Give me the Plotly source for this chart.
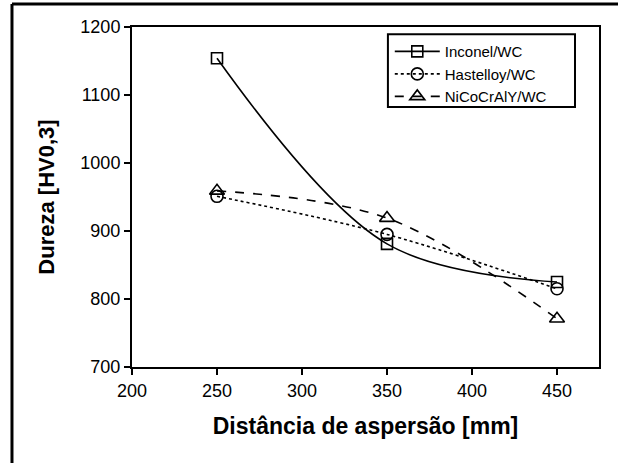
import plotly.graph_objects as go

distancia = [250, 350, 450]
inconel = [1154, 881, 825]
hastelloy = [951, 895, 815]
nicocraly = [959, 919, 771]
names = ["Inconel/WC", "Hastelloy/WC", "NiCoCrAlY/WC"]
x_ticks = [200, 250, 300, 350, 400, 450]
y_ticks = [700, 800, 900, 1000, 1100, 1200]

FONT = "Arial, Liberation Sans, Helvetica, sans-serif"

fig = go.Figure()
styles = [
    (inconel, "solid", "square-open", 11),
    (hastelloy, "dot", "circle-open", 12),
    (nicocraly, "dash", "triangle-up-open", 13),
]
for name, (vals, dash, sym, size) in zip(names, styles):
    fig.add_trace(go.Scatter(
        x=distancia, y=vals, name=name, mode="lines+markers",
        line=dict(color="black", width=1.6, dash=dash, shape="spline", smoothing=1.0),
        marker=dict(symbol=sym, size=size, color="black", line=dict(width=1.6, color="black")),
    ))

axis_common = dict(
    showline=True, linecolor="black", linewidth=2, mirror=True,
    ticks="outside", ticklen=6, tickwidth=2, tickcolor="black",
    showgrid=False, zeroline=False, automargin=True,
    tickfont=dict(family=FONT, size=18, color="black"),
)
fig.update_xaxes(range=[200, 474.7], tickvals=x_ticks,
                 title=dict(text="Distância de aspersão [mm]", standoff=18,
                            font=dict(family=FONT, size=23, color="black", weight="bold")),
                 **axis_common)
fig.update_yaxes(range=[700, 1200], tickvals=y_ticks,
                 title=dict(text="Dureza [HV0,3]", standoff=20,
                            font=dict(family=FONT, size=22, color="black", weight="bold")),
                 **axis_common)

# outer frame (only left and top edges fall inside the picture)
frame = dict(color="black", width=3)
fig.add_shape(type="line", xref="paper", yref="paper",
              x0=-0.257, x1=-0.257, y0=1.0676, y1=-0.35, line=frame)
fig.add_shape(type="line", xref="paper", yref="paper",
              x0=-0.257, x1=1.1, y0=1.0676, y1=1.0676, line=frame)
# legend frame
fig.add_shape(type="rect", xref="paper", yref="paper",
              x0=0.548, x1=0.9486, y0=0.7647, y1=0.979,
              line=dict(color="black", width=2), fillcolor="white", layer="above")

fig.update_layout(
    width=618, height=463,
    margin=dict(l=132, r=19, t=27, b=96, autoexpand=False),
    paper_bgcolor="white", plot_bgcolor="white",
    font=dict(family=FONT, color="black"),
    legend=dict(x=0.552, y=0.976, xanchor="left", yanchor="top",
                borderwidth=0, bgcolor="rgba(0,0,0,0)",
                itemwidth=45,
                font=dict(family=FONT, size=15, color="black")),
)

fig.write_html("out.html")
